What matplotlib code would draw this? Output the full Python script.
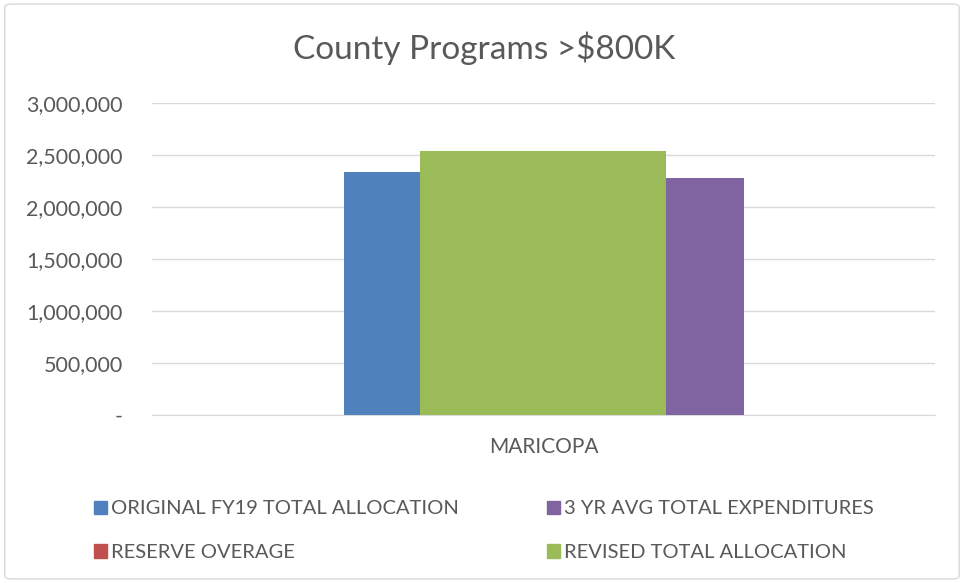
import matplotlib.pyplot as plt
from matplotlib.patches import FancyBboxPatch, Patch
from matplotlib.ticker import FuncFormatter

# Data
county = ["MARICOPA"]
original_fy19 = [2337000]
reserve_overage = [0]
three_yr_avg = [2279000]
revised_total = [2539000]

series_names = ["ORIGINAL FY19 TOTAL ALLOCATION", "RESERVE OVERAGE",
                "3 YR AVG TOTAL EXPENDITURES", "REVISED TOTAL ALLOCATION"]
colors = {"blue": "#4F81BD", "red": "#C0504D", "purple": "#8064A2", "green": "#9BBB59"}

plt.rcParams['font.family'] = ['Lato', 'DejaVu Sans']
txt = '#595959'

fig = plt.figure(figsize=(9.64, 5.83), dpi=100)
ax = fig.add_axes([0.1577, 0.2882, 0.8123, 0.5352])

# outer chart border
fig.patches.append(FancyBboxPatch((0.005, 0.007), 0.99, 0.986,
                                  boxstyle="round,pad=0,rounding_size=0.006",
                                  transform=fig.transFigure, facecolor='none',
                                  edgecolor='#D9D9D9', linewidth=1.0))

x = range(len(county))
# narrow bars on each side, the wider revised bar in the middle
ax.bar([i - 0.2063 for i in x], original_fy19, width=0.097, color=colors["blue"], zorder=3)
ax.bar([i for i in x], reserve_overage, width=0.05, color=colors["red"], zorder=3)
ax.bar([i - 0.0009 for i in x], revised_total, width=0.3136, color=colors["green"], zorder=3)
ax.bar([i + 0.2058 for i in x], three_yr_avg, width=0.0995, color=colors["purple"], zorder=3)

ax.set_xlim(-0.5, 0.5)
ax.set_ylim(0, 3000000)
ax.set_yticks(range(0, 3000001, 500000))
ax.yaxis.set_major_formatter(FuncFormatter(lambda v, p: "-" if v == 0 else f"{int(v):,}"))
ax.set_xticks(list(x))
ax.set_xticklabels(county)

ax.grid(axis='y', color='#D9D9D9', linewidth=1.0, zorder=0)
for s in ['top', 'right', 'left']:
    ax.spines[s].set_visible(False)
ax.spines['bottom'].set_color('#D9D9D9')
ax.tick_params(axis='y', length=0, pad=21, labelsize=15.5, labelcolor=txt)
ax.tick_params(axis='x', length=0, pad=16, labelsize=15, labelcolor=txt)

fig.text(0.502, 0.918, "County Programs >$800K", ha='center', va='center',
         fontsize=24, color=txt)

handles = [Patch(color=colors["blue"]), Patch(color=colors["red"]),
           Patch(color=colors["purple"]), Patch(color=colors["green"])]
fig.legend(handles, series_names, loc='center left', bbox_to_anchor=(0.0975, 0.0895),
           ncol=2, frameon=False, labelcolor=txt, fontsize=14.5,
           borderpad=0, borderaxespad=0,
           handlelength=0.65, handleheight=0.65, handletextpad=0.2,
           columnspacing=4.38, labelspacing=1.33)

plt.savefig("out.png", dpi=100)
